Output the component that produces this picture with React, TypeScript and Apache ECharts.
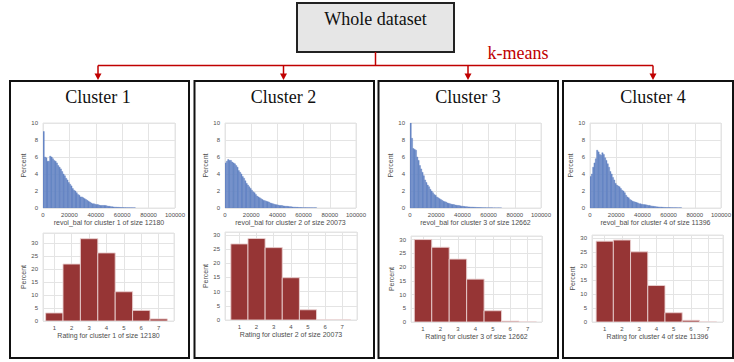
import React, { useEffect, useRef } from "react";
import * as echarts from "echarts";

// ---------- data ----------
const clusterNames = ["Cluster 1", "Cluster 2", "Cluster 3", "Cluster 4"];
const clusterSizes = [12180, 20073, 12662, 11396];

// revol_bal histogram: percent per 1000-wide bin starting at 0
const REVOL_BIN = 1000;
const revolCluster1 = [
  9.0, 6.0, 5.9, 5.5, 5.5, 6.1, 6.0, 5.8, 5.6, 5.5, 5.3, 5.0, 4.8, 4.6, 4.3, 4.0, 3.8, 3.5, 3.3, 3.0,
  2.8, 2.6, 2.3, 2.1, 2.0, 1.8, 1.6, 1.5, 1.3, 1.3, 1.2, 1.1, 1.0, 0.9, 0.8, 0.7, 0.6, 0.5, 0.5, 0.45,
  0.4, 0.4, 0.35, 0.3, 0.3, 0.3, 0.3, 0.3, 0.25, 0.2, 0.2, 0.15, 0.15, 0.12, 0.1, 0.1, 0.08, 0.08, 0.06, 0.05,
  0.05, 0.04, 0.04, 0.03, 0.03, 0.03, 0.02, 0.02, 0.02, 0.02,
];
const revolCluster2 = [
  5.3, 5.5, 5.7, 5.6, 5.6, 5.4, 5.3, 5.2, 5.0, 4.8, 4.4, 4.2, 4.0, 3.7, 3.5, 3.2, 2.9, 2.7, 2.5, 2.3,
  2.1, 1.9, 1.8, 1.6, 1.4, 1.3, 1.2, 1.1, 1.0, 0.9, 0.85, 0.8, 0.75, 0.7, 0.6, 0.55, 0.5, 0.45, 0.4, 0.38,
  0.35, 0.3, 0.3, 0.28, 0.25, 0.22, 0.2, 0.2, 0.18, 0.15, 0.15, 0.12, 0.1, 0.1, 0.08, 0.08, 0.06, 0.05, 0.05, 0.04,
  0.04, 0.04, 0.03, 0.03, 0.03, 0.02, 0.02, 0.02, 0.02, 0.02,
];
const revolCluster3 = [
  10.0, 8.2, 7.0, 6.9, 6.8, 6.0, 5.6, 5.0, 4.6, 4.2, 3.8, 3.3, 3.0, 2.7, 2.5, 2.2, 2.0, 1.8, 1.6, 1.5,
  1.3, 1.2, 1.1, 1.0, 0.9, 0.8, 0.75, 0.7, 0.6, 0.55, 0.5, 0.45, 0.42, 0.4, 0.35, 0.32, 0.3, 0.28, 0.25, 0.22,
  0.2, 0.18, 0.16, 0.15, 0.13, 0.12, 0.1, 0.1, 0.09, 0.08, 0.07, 0.06, 0.05, 0.05, 0.04, 0.04, 0.03, 0.03, 0.02, 0.02,
  0.02, 0.02, 0.02, 0.01, 0.01, 0.01, 0.01, 0.01, 0.01, 0.01,
];
const revolCluster4 = [
  3.7, 4.0, 4.8, 5.3, 5.8, 6.8, 6.6, 6.3, 6.2, 6.5, 6.3, 5.9, 5.6, 5.2, 4.8, 4.3, 4.0, 3.6, 3.3, 2.9,
  2.7, 2.6, 2.5, 2.3, 2.1, 2.0, 1.8, 1.5, 1.3, 1.2, 1.0, 0.9, 0.8, 0.75, 0.7, 0.65, 0.6, 0.5, 0.5, 0.45,
  0.4, 0.4, 0.38, 0.35, 0.3, 0.3, 0.25, 0.22, 0.2, 0.18, 0.15, 0.13, 0.12, 0.1, 0.1, 0.08, 0.07, 0.06, 0.05, 0.05,
  0.05, 0.04, 0.04, 0.03, 0.03, 0.03, 0.02, 0.02, 0.02, 0.02,
];
const revolSeries = [revolCluster1, revolCluster2, revolCluster3, revolCluster4];
const revolTicks = [0, 20000, 40000, 60000, 80000, 100000];

// Rating histogram: percent per rating 1..7
const ratings = [1, 2, 3, 4, 5, 6, 7];
const ratingCluster1 = [3.1, 22.0, 31.8, 26.3, 11.3, 4.1, 0.8];
const ratingCluster2 = [26.8, 28.7, 25.5, 14.9, 3.6, 0, 0];
const ratingCluster3 = [30.0, 27.2, 22.9, 15.6, 4.1, 0.3, 0];
const ratingCluster4 = [28.8, 29.2, 25.0, 13.0, 3.3, 0.6, 0];
const ratingSeries = [ratingCluster1, ratingCluster2, ratingCluster3, ratingCluster4];

// ---------- layout ----------
const boxX = [10, 194.5, 378.5, 563];
const boxW = [179, 179.5, 179.5, 170];
const arrowX = [98, 283.5, 468, 653];
const histGrids = [
  { left: 43, top: 123, width: 132, height: 85 },
  { left: 225, top: 123, width: 131, height: 85 },
  { left: 410, top: 123, width: 131, height: 85 },
  { left: 590, top: 123, width: 131, height: 85 },
];
const rateGrids = [
  { left: 43, top: 233, width: 131, height: 88 },
  { left: 225, top: 232, width: 132, height: 88 },
  { left: 411, top: 236, width: 131, height: 86 },
  { left: 592, top: 235, width: 131, height: 87 },
];
const rateXRange = [
  [0.35, 7.88],
  [0.16, 7.86],
  [0.31, 7.82],
  [0.26, 7.87],
];
const rateYMax = [34, 31, 31.3, 31];

const SANS = "Liberation Sans, Arial, sans-serif";
const SERIF = "Liberation Serif, Times New Roman, serif";
const GRIDC = "#e4e4e4";
const LABELC = "#4d4d4d";

function App() {
  const ref = useRef<HTMLDivElement>(null);

  useEffect(() => {
    if (!ref.current) return;
    const chart = echarts.init(ref.current, null, { renderer: "svg" });

    const grid: any[] = [];
    const xAxis: any[] = [];
    const yAxis: any[] = [];
    const series: any[] = [];

    const axisCommon = {
      axisLine: { show: false },
      axisTick: { show: false },
      splitLine: { show: true, lineStyle: { color: GRIDC, width: 1 } },
      axisLabel: { fontSize: 6, color: LABELC, fontFamily: SANS },
      nameTextStyle: { fontSize: 7, color: LABELC, fontFamily: SANS },
    };

    const rectItem = (color: string, stroke: string, lw: number) => (params: any, api: any) => {
      const x0 = api.value(0);
      const x1 = api.value(1);
      const y = api.value(2);
      const p0 = api.coord([x0, y]);
      const p1 = api.coord([x1, 0]);
      return {
        type: "rect",
        shape: { x: p0[0], y: p0[1], width: p1[0] - p0[0], height: p1[1] - p0[1] },
        style: { fill: color, stroke, lineWidth: lw },
      };
    };

    for (let c = 0; c < 4; c++) {
      // revol_bal histogram
      const gi = grid.length;
      grid.push({ ...histGrids[c], show: true, borderColor: GRIDC, borderWidth: 1, backgroundColor: "#fff" });
      xAxis.push({
        ...axisCommon,
        type: "value",
        gridIndex: gi,
        min: revolTicks[0],
        max: revolTicks[revolTicks.length - 1],
        interval: revolTicks[1] - revolTicks[0],
        name: `revol_bal for cluster ${c + 1} of size ${clusterSizes[c]}`,
        nameLocation: "middle",
        nameGap: 9,
        axisLabel: { ...axisCommon.axisLabel, margin: 4, formatter: (v: number) => String(v) },
      });
      yAxis.push({
        ...axisCommon,
        type: "value",
        gridIndex: gi,
        min: 0,
        max: 10,
        interval: 2,
        name: "Percent",
        nameLocation: "middle",
        nameGap: 10,
        axisLabel: { ...axisCommon.axisLabel, margin: 5 },
      });
      series.push({
        type: "custom",
        xAxisIndex: gi,
        yAxisIndex: gi,
        clip: true,
        encode: { x: [0, 1], y: 2 },
        renderItem: rectItem("#6787c5", "#6787c5", 0.4),
        data: revolSeries[c].map((v, i) => [i * REVOL_BIN, (i + 1) * REVOL_BIN, v]),
      });

      // Rating histogram
      const gj = grid.length;
      grid.push({ ...rateGrids[c], show: true, borderColor: GRIDC, borderWidth: 1, backgroundColor: "#fff" });
      xAxis.push({
        ...axisCommon,
        type: "value",
        gridIndex: gj,
        min: rateXRange[c][0],
        max: rateXRange[c][1],
        splitNumber: 7,
        name: `Rating for cluster ${c + 1} of size ${clusterSizes[c]}`,
        nameLocation: "middle",
        nameGap: 9,
        axisLabel: { ...axisCommon.axisLabel, margin: 4, showMinLabel: false, showMaxLabel: false },
      });
      yAxis.push({
        ...axisCommon,
        type: "value",
        gridIndex: gj,
        min: 0,
        max: rateYMax[c],
        interval: 5,
        name: "Percent",
        nameLocation: "middle",
        nameGap: 10,
        axisLabel: { ...axisCommon.axisLabel, margin: 5, showMaxLabel: false },
      });
      series.push({
        type: "custom",
        xAxisIndex: gj,
        yAxisIndex: gj,
        clip: true,
        encode: { x: [0, 1], y: 2 },
        renderItem: rectItem("#963535", "#e9cfcf", 0.9),
        data: ratings.map((r, i) => [r - 0.5, r + 0.5, ratingSeries[c][i]]),
      });
    }

    const red = "#c00000";
    const graphic: any[] = [
      {
        type: "rect",
        shape: { x: 297, y: 3, width: 157, height: 49 },
        style: { fill: "#e6e6e6", stroke: "#222", lineWidth: 2 },
      },
      {
        type: "text",
        x: 375.5,
        y: 19,
        style: { text: "Whole dataset", font: `18px ${SERIF}`, fill: "#111", align: "center", verticalAlign: "middle" },
      },
      { type: "line", shape: { x1: 375.5, y1: 52, x2: 375.5, y2: 65.5 }, style: { stroke: red, lineWidth: 1.5 } },
      { type: "line", shape: { x1: arrowX[0], y1: 65.5, x2: arrowX[3], y2: 65.5 }, style: { stroke: red, lineWidth: 1.5 } },
      {
        type: "text",
        x: 518,
        y: 53,
        style: { text: "k-means", font: `18px ${SERIF}`, fill: red, align: "center", verticalAlign: "middle" },
      },
    ];
    for (let c = 0; c < 4; c++) {
      const ax = arrowX[c];
      graphic.push({ type: "line", shape: { x1: ax, y1: 65.5, x2: ax, y2: 75 }, style: { stroke: red, lineWidth: 1.5 } });
      graphic.push({
        type: "polygon",
        shape: { points: [[ax - 3.5, 73.5], [ax + 3.5, 73.5], [ax, 80]] },
        style: { fill: red },
      });
      graphic.push({
        type: "rect",
        shape: { x: boxX[c], y: 81, width: boxW[c], height: 277 },
        style: { fill: "none", stroke: "#111", lineWidth: 2 },
        z: 10,
      });
      graphic.push({
        type: "text",
        x: arrowX[c],
        y: 97,
        style: { text: clusterNames[c], font: `18px ${SERIF}`, fill: "#111", align: "center", verticalAlign: "middle" },
      });
    }

    chart.setOption({
      animation: false,
      backgroundColor: "#fff",
      grid,
      xAxis,
      yAxis,
      series,
      graphic,
    });

    return () => chart.dispose();
  }, []);

  return (
    <div
      ref={ref}
      style={{ position: "fixed", left: 0, top: 0, width: 734, height: 362, background: "#fff" }}
    />
  );
}

export default App;
